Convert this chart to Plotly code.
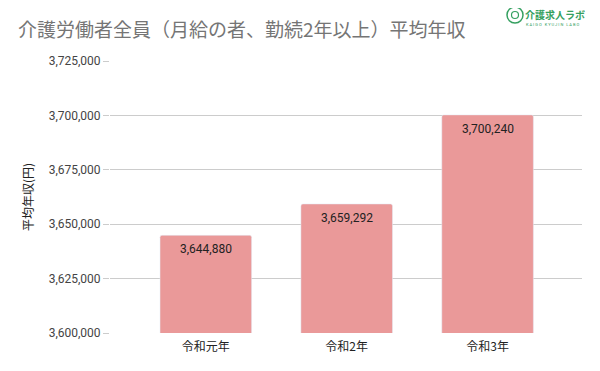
import plotly.graph_objects as go

categories = ["令和元年", "令和2年", "令和3年"]
values = [3644880, 3659292, 3700240]
tick_vals = [3600000, 3625000, 3650000, 3675000, 3700000, 3725000]
title_text = "介護労働者全員（月給の者、勤続2年以上）平均年収"
y_title = "平均年収(円)"

font_fam = "Roboto, 'Noto Sans CJK JP', sans-serif"
jp_fam = "'Noto Sans CJK JP', sans-serif"
green = "#35A060"

# page body has an 8px margin; figure is sized/placed so it maps onto the 600x371 view
OFF = 8
W, H = 600 - OFF, 371 - OFF
ML, MR, MT, MB = 110 - OFF, 18, 61 - OFF, 38
PW, PH = W - ML - MR, H - MT - MB


def px(x):
    return (x - OFF - ML) / PW


def py(y):
    return (H - MB - (y - OFF)) / PH


fig = go.Figure(go.Bar(
    x=categories, y=values,
    marker=dict(color="#EA9999", cornerradius=2),
    width=0.65,
))

for c, v in zip(categories, values):
    fig.add_annotation(x=c, y=v, text=f"{v:,}", showarrow=False, yanchor="top", yshift=-5,
                       font=dict(family=font_fam, size=12, color="#222222"))

fig.update_layout(
    width=W, height=H,
    margin=dict(l=ML, r=MR, t=MT, b=MB, autoexpand=False),
    plot_bgcolor="white", paper_bgcolor="white",
    showlegend=False,
    font=dict(family=font_fam, color="#333333"),
    title=dict(text=title_text, xref="container", x=(18 - OFF) / W, xanchor="left",
               yref="container", y=1 - (30 - OFF) / H, yanchor="middle", pad=dict(l=0, t=0, b=0, r=0),
               font=dict(family=jp_fam, size=19, color="#757575")),
)
fig.update_xaxes(range=[-0.68, 2.67], showgrid=False, showline=False, ticks="", automargin=False,
                 ticklabelstandoff=5,
                 tickfont=dict(family=jp_fam, size=12, color="#222222"))
fig.update_yaxes(range=[3600000, 3725000], tickvals=tick_vals, tickformat=",", automargin=False,
                 showgrid=True, gridcolor="#CCCCCC", gridwidth=1, zeroline=False,
                 ticks="outside", ticklen=6, tickcolor="#CCCCCC",
                 tickfont=dict(family=font_fam, size=12, color="#444444"),
                 title=dict(text=y_title, standoff=12,
                            font=dict(family=jp_fam, size=12, color="#222222")))

# Logo
fig.add_shape(type="circle", xref="paper", yref="paper",
              x0=px(507), x1=px(523), y0=py(23), y1=py(7),
              line=dict(color=green, width=1.5))
fig.add_shape(type="circle", xref="paper", yref="paper",
              x0=px(511.5), x1=px(518.5), y0=py(18.5), y1=py(11.5),
              line=dict(color=green, width=1.2))
fig.add_annotation(xref="paper", yref="paper", x=px(524), y=py(15), borderpad=0,
                   text="<b>介護求人ラボ</b>", showarrow=False, xanchor="left", yanchor="middle",
                   font=dict(family=jp_fam, size=10, color=green))
fig.add_annotation(xref="paper", yref="paper", x=px(525), y=py(24.5), borderpad=0,
                   text="K A I G O   K Y U J I N   L A B O", showarrow=False, xanchor="left", yanchor="middle",
                   font=dict(family=font_fam, size=4, color=green))

fig.write_html("out.html")
